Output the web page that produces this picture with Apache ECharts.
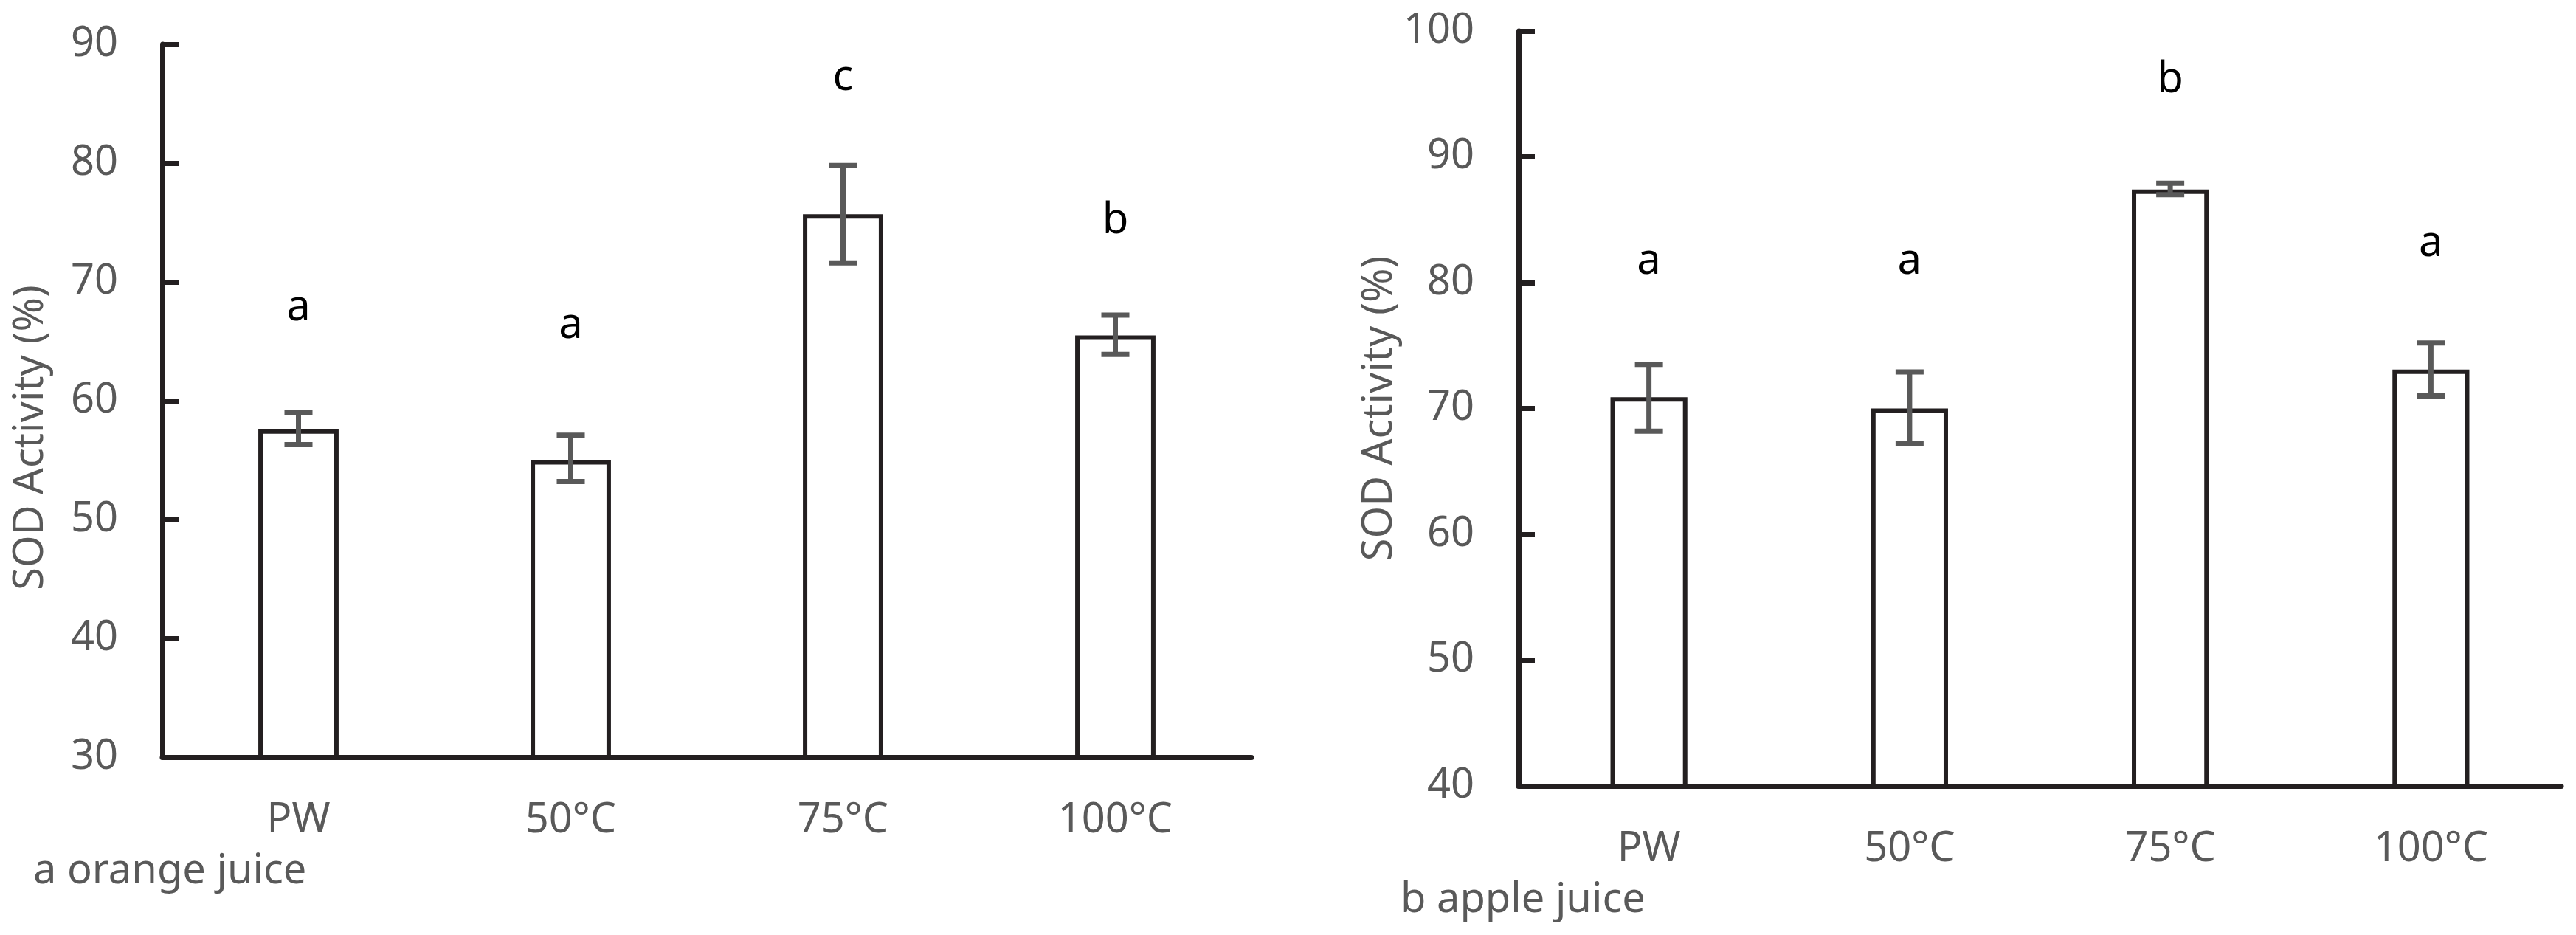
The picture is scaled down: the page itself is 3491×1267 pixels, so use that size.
<!DOCTYPE html>
<html>
<head>
<meta charset="utf-8">
<script src="https://cdn.jsdelivr.net/npm/echarts@6/dist/echarts.min.js"></script>
<style>
html, body { margin: 0; padding: 0; background: #fff; }
#main { width: 3491px; height: 1267px; }
</style>
</head>
<body>
<div id="main"></div>
<script>
// data
let categories = ['PW', '50°C', '75°C', '100°C'];

let orangeMean = [57.6, 55.0, 75.7, 65.5];
let orangeLow = [56.3, 53.2, 71.6, 63.9];
let orangeHigh = [59.0, 57.1, 79.8, 67.2];
let orangeLetters = ['a', 'a', 'c', 'b'];
let orangeLetterAt = [67.8, 66.3, 87.2, 75.1];

let appleMean = [70.9, 70.0, 87.4, 73.1];
let appleLow = [68.2, 67.2, 87.0, 71.0];
let appleHigh = [73.5, 72.9, 87.9, 75.2];
let appleLetters = ['a', 'a', 'b', 'a'];
let appleLetterAt = [81.7, 81.7, 96.1, 83.1];

let font = '"Noto Sans", "Open Sans", sans-serif';
let ink = '#231f20';
let grey = '#595959';

let renderError = function(params, api) {
    let x = api.value(0);
    let lo = api.coord([x, api.value(1)]);
    let hi = api.coord([x, api.value(2)]);
    let half = 19;
    let style = { stroke: grey, lineWidth: 7 };
    return {
        type: 'group',
        children: [
            { type: 'line', shape: { x1: lo[0], y1: lo[1], x2: hi[0], y2: hi[1] }, style: style },
            { type: 'line', shape: { x1: lo[0] - half, y1: lo[1], x2: lo[0] + half, y2: lo[1] }, style: style },
            { type: 'line', shape: { x1: hi[0] - half, y1: hi[1], x2: hi[0] + half, y2: hi[1] }, style: style }
        ]
    };
};

let makeLetterRender = function(letters) {
    return function(params, api) {
        let p = api.coord([api.value(0), api.value(1)]);
        return {
            type: 'text',
            x: p[0],
            y: p[1],
            style: {
                text: letters[params.dataIndex],
                fill: '#000',
                fontSize: 58,
                fontFamily: font,
                align: 'center',
                verticalAlign: 'middle'
            }
        };
    };
};

let xAxisFor = function(gridIndex) {
    return {
        type: 'category',
        gridIndex: gridIndex,
        data: categories,
        axisLine: { lineStyle: { color: ink, width: 7 } },
        axisTick: { show: false },
        axisLabel: { color: grey, fontSize: 56, fontFamily: font, margin: 58 },
        splitLine: { show: false }
    };
};

let yAxisFor = function(gridIndex, min, max, namePadding) {
    return {
        type: 'value',
        gridIndex: gridIndex,
        min: min,
        max: max,
        interval: 10,
        name: 'SOD Activity (%)',
        nameLocation: 'middle',
        nameRotate: 90,
        nameGap: 150,
        nameTextStyle: { color: grey, fontSize: 56, fontFamily: font, padding: namePadding },
        axisLine: { show: true, lineStyle: { color: ink, width: 7 } },
        axisTick: { show: true, inside: true, length: 22, lineStyle: { color: ink, width: 7 } },
        axisLabel: { color: grey, fontSize: 56, fontFamily: font, margin: 60 },
        splitLine: { show: false }
    };
};

let toRange = function(low, high) {
    return categories.map(function(c, i) { return [i, low[i], high[i]]; });
};
let toPoints = function(vals) {
    return categories.map(function(c, i) { return [i, vals[i]]; });
};

let barStyle = { color: '#fff', borderColor: ink, borderWidth: 6 };

let myChart = echarts.init(document.getElementById('main'), null, { renderer: 'canvas' });
myChart.setOption({
    animation: false,
    backgroundColor: '#fff',
    title: [
        { text: 'a orange juice', left: 40, top: 1148, textStyle: { color: grey, fontSize: 56, fontWeight: 'normal', fontFamily: font } },
        { text: 'b apple juice', left: 1893, top: 1187, textStyle: { color: grey, fontSize: 56, fontWeight: 'normal', fontFamily: font } }
    ],
    grid: [
        { left: 220, top: 60, width: 1476, height: 966, outerBoundsMode: 'none' },
        { left: 2058, top: 42, width: 1413, height: 1023, outerBoundsMode: 'none' }
    ],
    xAxis: [xAxisFor(0), xAxisFor(1)],
    yAxis: [yAxisFor(0, 30, 90, [0, 100, 0, 0]), yAxisFor(1, 40, 100, 0)],
    series: [
        { type: 'bar', xAxisIndex: 0, yAxisIndex: 0, data: orangeMean, barWidth: '29.5%', itemStyle: barStyle, z: 2 },
        { type: 'custom', xAxisIndex: 0, yAxisIndex: 0, data: toRange(orangeLow, orangeHigh), renderItem: renderError, z: 3 },
        { type: 'custom', xAxisIndex: 0, yAxisIndex: 0, data: toPoints(orangeLetterAt), renderItem: makeLetterRender(orangeLetters), z: 3 },
        { type: 'bar', xAxisIndex: 1, yAxisIndex: 1, data: appleMean, barWidth: '29.5%', itemStyle: barStyle, z: 2 },
        { type: 'custom', xAxisIndex: 1, yAxisIndex: 1, data: toRange(appleLow, appleHigh), renderItem: renderError, z: 3 },
        { type: 'custom', xAxisIndex: 1, yAxisIndex: 1, data: toPoints(appleLetterAt), renderItem: makeLetterRender(appleLetters), z: 3 }
    ]
});
</script>
</body>
</html>
